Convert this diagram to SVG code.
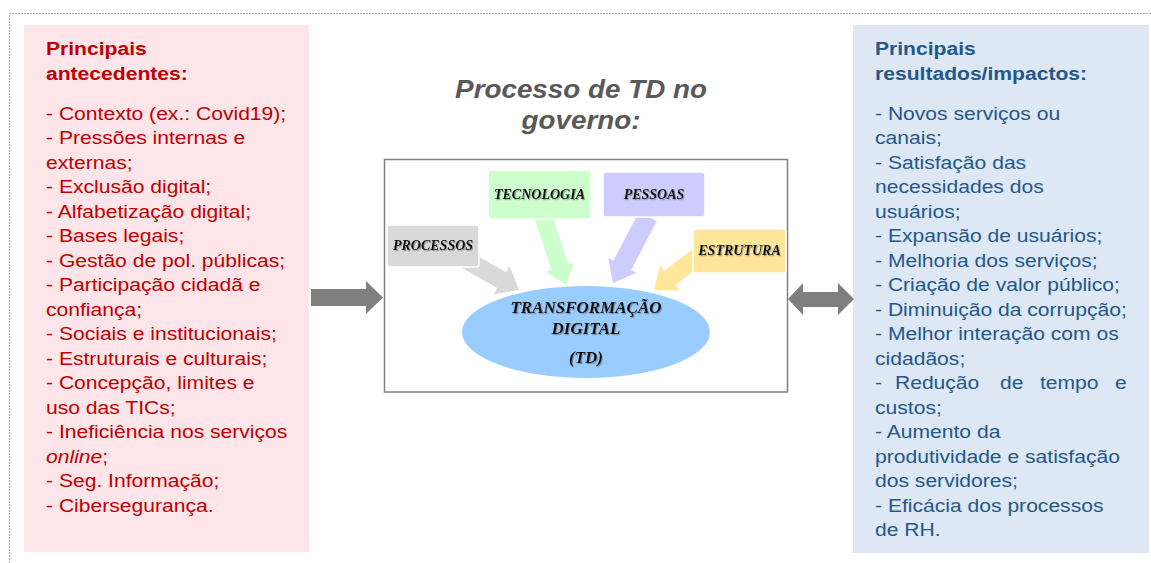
<svg xmlns="http://www.w3.org/2000/svg" width="1151" height="563" viewBox="0 0 1151 563">
<style>
.lt{font-family:"Liberation Sans",Arial,sans-serif;font-size:18.5px;fill:#c00000}
.rt{font-family:"Liberation Sans",Arial,sans-serif;font-size:18.5px;fill:#24578a}
.hd{font-weight:bold}
.title{font-family:"Liberation Sans",Arial,sans-serif;font-size:26px;font-weight:bold;font-style:italic;fill:#595959}
.lbl{font-family:"Liberation Serif","Times New Roman",serif;font-size:14px;font-weight:bold;font-style:italic;fill:#111;text-anchor:middle}
.td{font-family:"Liberation Serif","Times New Roman",serif;font-size:17px;font-weight:bold;font-style:italic;fill:#111;text-anchor:middle}
.big{fill:#7f7f7f}
</style>
<defs>
<filter id="sh" x="-20%" y="-40%" width="140%" height="180%">
<feDropShadow dx="1" dy="1.2" stdDeviation="0.7" flood-color="#666" flood-opacity="0.55"/>
</filter>
</defs>
<rect width="1151" height="563" fill="#fff"/>
<path d="M9.5,563 V13.5 H1151" fill="none" stroke="#a6a6a6" stroke-width="1" stroke-dasharray="2 1"/>

<g id="antecedentes">
<rect x="24" y="25" width="285" height="527" fill="#fde5ea"/>
<g transform="matrix(1.14 0 0 1 46 0)">
<text class="lt hd" x="0" y="55">Principais</text>
<text class="lt hd" x="0" y="80">antecedentes:</text>
<text class="lt" x="0" y="120">- Contexto (ex.: Covid19);</text>
<text class="lt" x="0" y="144.5">- Pressões internas e</text>
<text class="lt" x="0" y="169">externas;</text>
<text class="lt" x="0" y="193.5">- Exclusão digital;</text>
<text class="lt" x="0" y="218">- Alfabetização digital;</text>
<text class="lt" x="0" y="242.5">- Bases legais;</text>
<text class="lt" x="0" y="267">- Gestão de pol. públicas;</text>
<text class="lt" x="0" y="291.5">- Participação cidadã e</text>
<text class="lt" x="0" y="316">confiança;</text>
<text class="lt" x="0" y="340.5">- Sociais e institucionais;</text>
<text class="lt" x="0" y="365">- Estruturais e culturais;</text>
<text class="lt" x="0" y="389.5">- Concepção, limites e</text>
<text class="lt" x="0" y="414">uso das TICs;</text>
<text class="lt" x="0" y="438.5">- Ineficiência nos serviços</text>
<text class="lt" x="0" y="463"><tspan font-style="italic">online</tspan>;</text>
<text class="lt" x="0" y="487.5">- Seg. Informação;</text>
<text class="lt" x="0" y="512">- Cibersegurança.</text>
</g>
</g>

<g id="resultados">
<rect x="853" y="25" width="296" height="528" fill="#dde8f4"/>
<g transform="matrix(1.14 0 0 1 875 0)">
<text class="rt hd" x="0" y="55">Principais</text>
<text class="rt hd" x="0" y="80">resultados/impactos:</text>
<text class="rt" x="0" y="120">- Novos serviços ou</text>
<text class="rt" x="0" y="144.5">canais;</text>
<text class="rt" x="0" y="169">- Satisfação das</text>
<text class="rt" x="0" y="193.5">necessidades dos</text>
<text class="rt" x="0" y="218">usuários;</text>
<text class="rt" x="0" y="242.5">- Expansão de usuários;</text>
<text class="rt" x="0" y="267">- Melhoria dos serviços;</text>
<text class="rt" x="0" y="291.5">- Criação de valor público;</text>
<text class="rt" x="0" y="316">- Diminuição da corrupção;</text>
<text class="rt" x="0" y="340.5">- Melhor interação com os</text>
<text class="rt" x="0" y="365">cidadãos;</text>
<text class="rt" x="0" y="389.5">-<tspan x="17.5">Redução</tspan><tspan x="109.6">de</tspan><tspan x="144.7">tempo</tspan><tspan x="210.5">e</tspan></text>
<text class="rt" x="0" y="414">custos;</text>
<text class="rt" x="0" y="438.5">- Aumento da</text>
<text class="rt" x="0" y="463">produtividade e satisfação</text>
<text class="rt" x="0" y="487.5">dos servidores;</text>
<text class="rt" x="0" y="512">- Eficácia dos processos</text>
<text class="rt" x="0" y="536.5">de RH.</text>
</g>
</g>

<g id="titulo">
<g transform="matrix(1.07 0 0 1 581 0)">
<text class="title" x="0" y="98" text-anchor="middle">Processo de TD no</text>
<text class="title" x="0" y="129" text-anchor="middle">governo:</text>
</g>
</g>

<g id="processo-td">
<rect x="384.5" y="159.5" width="403" height="232.5" fill="#fff" stroke="#808080" stroke-width="1.5"/>
</g>

<g id="connectors">
<polygon class="big" points="311,289 366,289 366,281 383,297.5 366,314 366,306 311,306"/>
<polygon class="big" points="788,299 803,283 803,292 838,292 838,283 854,299 838,315 838,307 803,307 803,315"/>
<polygon fill="#d9d9d9" transform="translate(519,290) rotate(29.7)" points="-80,-9 -20,-9 -20,-16 0,0 -20,16 -20,9 -80,9"/>
<polygon fill="#ccffcc" transform="translate(566,285) rotate(71.6)" points="-75,-9 -19,-9 -19,-15 0,0 -19,15 -19,9 -75,9"/>
<polygon fill="#ccccff" transform="translate(613,283) rotate(117.7)" points="-75,-10 -20,-10 -20,-16 0,0 -20,16 -20,10 -75,10"/>
<polygon fill="#ffe699" transform="translate(654,290) rotate(142.7)" points="-80,-9 -20,-9 -20,-16 0,0 -20,16 -20,9 -80,9"/>
</g>

<g id="processos">
<rect x="387" y="225" width="92" height="42" rx="3" fill="#d9d9d9" stroke="#fff" stroke-width="1.5"/>
<text class="lbl" x="433" y="250" filter="url(#sh)">PROCESSOS</text>
</g>
<g id="tecnologia">
<rect x="488" y="170" width="103" height="49" rx="3" fill="#ccffcc" stroke="#fff" stroke-width="1.5"/>
<text class="lbl" x="539.5" y="199" filter="url(#sh)">TECNOLOGIA</text>
</g>
<g id="pessoas">
<rect x="603" y="172" width="102" height="45" rx="3" fill="#ccccff" stroke="#fff" stroke-width="1.5"/>
<text class="lbl" x="654" y="199" filter="url(#sh)">PESSOAS</text>
</g>
<g id="estrutura">
<rect x="693" y="229" width="93" height="44" rx="3" fill="#ffe699" stroke="#fff" stroke-width="1.5"/>
<text class="lbl" x="739.5" y="255" filter="url(#sh)">ESTRUTURA</text>
</g>

<g id="transformacao">
<ellipse cx="586" cy="332" rx="124" ry="46" fill="#99ccff"/>
<text class="td" x="586" y="313" filter="url(#sh)">TRANSFORMAÇÃO</text>
<text class="td" x="586" y="334" filter="url(#sh)">DIGITAL</text>
<text class="td" x="586" y="363" filter="url(#sh)">(TD)</text>
</g>
</svg>
